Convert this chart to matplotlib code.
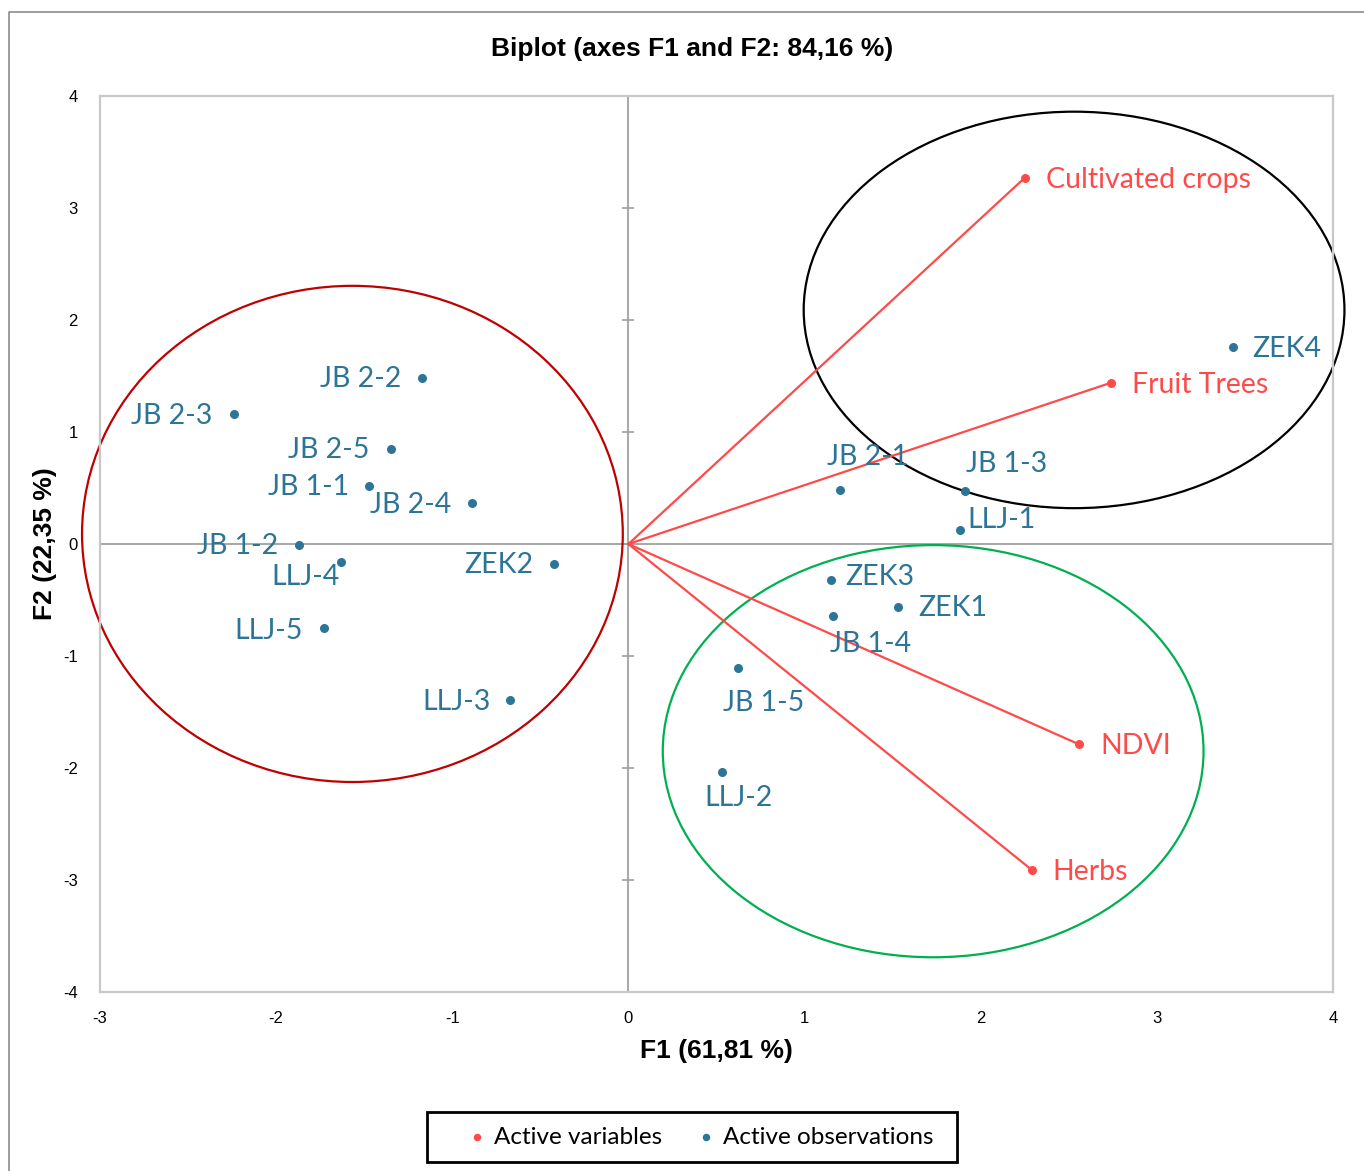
import matplotlib.pyplot as plt
from matplotlib.patches import Ellipse, Rectangle
from matplotlib.lines import Line2D

plt.rcParams['axes.unicode_minus'] = False

# observations (F1, F2)
obs_names = ['ZEK4', 'JB 2-1', 'JB 1-3', 'LLJ-1', 'ZEK3', 'ZEK1', 'JB 1-4', 'JB 1-5', 'LLJ-2',
             'JB 2-2', 'JB 2-3', 'JB 2-5', 'JB 1-1', 'JB 2-4', 'JB 1-2', 'LLJ-4', 'ZEK2', 'LLJ-5', 'LLJ-3']
obs_f1 = [3.43, 1.20, 1.91, 1.88, 1.15, 1.53, 1.16, 0.62, 0.53,
          -1.17, -2.24, -1.35, -1.47, -0.89, -1.87, -1.63, -0.42, -1.73, -0.67]
obs_f2 = [1.76, 0.48, 0.47, 0.125, -0.32, -0.56, -0.64, -1.11, -2.04,
          1.48, 1.16, 0.85, 0.52, 0.37, -0.01, -0.16, -0.18, -0.75, -1.39]

# active variables
var_names = ['Cultivated crops', 'Fruit Trees', 'NDVI', 'Herbs']
var_f1 = [2.25, 2.74, 2.56, 2.29]
var_f2 = [3.27, 1.44, -1.79, -2.91]

# label offsets in pixels (dx, dy, ha)
obs_off = {
    'ZEK4': (20, -2, 'left'), 'JB 2-1': (-13, 33, 'left'), 'JB 1-3': (1, 27, 'left'),
    'LLJ-1': (8, 10, 'left'), 'ZEK3': (14, 3, 'left'), 'ZEK1': (20, -1, 'left'),
    'JB 1-4': (-3, -28, 'left'), 'JB 1-5': (-15, -35, 'left'), 'LLJ-2': (-17, -26, 'left'),
    'JB 2-2': (-21, -1, 'right'), 'JB 2-3': (-21, -2, 'right'), 'JB 2-5': (-21, -1, 'right'),
    'JB 1-1': (-20, -1, 'right'), 'JB 2-4': (-20, -2, 'right'), 'JB 1-2': (-21, -1, 'right'),
    'LLJ-4': (-2, -15, 'right'), 'ZEK2': (-21, -1, 'right'), 'LLJ-5': (-21, -3, 'right'),
    'LLJ-3': (-20, -2, 'right'),
}

blue = '#2d7597'
red = '#ff4a4a'
lab_font = ['Lato', 'DejaVu Sans']

fig = plt.figure(figsize=(13.64, 11.71), dpi=100)
ax = fig.add_axes([100/1364, 1-992/1171, 1233/1364, 896/1171])
ax.set_xlim(-3, 4)
ax.set_ylim(-4, 4)

for s in ax.spines.values():
    s.set_color('#c8c8c8')
    s.set_linewidth(1.6)

ax.axhline(0, color='#a0a0a0', lw=1.3, zorder=1)
ax.axvline(0, color='#a0a0a0', lw=1.3, zorder=1)
ax.plot([0]*9, range(-4, 5), ls='none', marker='_', ms=9, mew=1.2, color='#a0a0a0', zorder=1)

ax.set_xticks(range(-3, 5))
ax.set_yticks(range(-4, 5))
ax.tick_params(length=0, labelsize=12, colors='black')
ax.tick_params(axis='x', pad=14)
ax.tick_params(axis='y', pad=16)
for t in ax.get_xticklabels() + ax.get_yticklabels():
    t.set_fontfamily('Liberation Sans')

# ellipses
ax.add_patch(Ellipse((-1.567, 0.09), 3.07, 4.43, fill=False, ec='#c00000', lw=1.6, zorder=2, clip_on=False))
ax.add_patch(Ellipse((2.53, 2.09), 3.07, 3.54, fill=False, ec='black', lw=1.6, zorder=2, clip_on=False))
ax.add_patch(Ellipse((1.73, -1.85), 3.07, 3.68, fill=False, ec='#00b050', lw=1.6, zorder=2, clip_on=False))

# variable vectors
for x, y in zip(var_f1, var_f2):
    ax.plot([0, x], [0, y], color=red, lw=1.6, zorder=3)
ax.scatter(var_f1, var_f2, s=30, color=red, zorder=4, label='Active variables')
for n, x, y in zip(var_names, var_f1, var_f2):
    ax.annotate(n, (x, y), xytext=(21, -2), textcoords='offset pixels', ha='left', va='center',
                color=red, fontsize=20.5, family=lab_font)

ax.scatter(obs_f1, obs_f2, s=30, color=blue, zorder=4, label='Active observations')
for n, x, y in zip(obs_names, obs_f1, obs_f2):
    dx, dy, ha = obs_off[n]
    ax.annotate(n, (x, y), xytext=(dx, dy), textcoords='offset pixels', ha=ha, va='center',
                color=blue, fontsize=20.5, family=lab_font, zorder=5)

fig.text(692/1364, 1-49/1171, 'Biplot (axes F1 and F2: 84,16 %)', ha='center', va='center',
         fontsize=19, fontweight='bold', family='Liberation Sans')
fig.text(716/1364, 1-1051/1171, 'F1 (61,81 %)', ha='center', va='center',
         fontsize=19, fontweight='bold', family='Liberation Sans')
fig.text(45/1364, 1-544/1171, 'F2 (22,35 %)', ha='center', va='center', rotation=90,
         fontsize=19, fontweight='bold', family='Liberation Sans')

# outer border (left and top)
fig.add_artist(Line2D([9/1364, 9/1364, 1.0], [0.0, 1-12/1171, 1-12/1171],
                      transform=fig.transFigure, color='#8c8c8c', lw=1.2))

# legend with a separate frame box
fig.add_artist(Rectangle((427/1364, 1-1162/1171), 530/1364, 50/1171, transform=fig.transFigure,
                         fill=False, ec='black', lw=2))
fig.legend(loc='center', bbox_to_anchor=(698/1364, 1-1137/1171), ncol=2,
           frameon=False, handletextpad=0.1, handlelength=1.2, columnspacing=1.2,
           markerscale=0.8, prop={'family': lab_font, 'size': 17.5})

fig.savefig('out.png', dpi=100)
